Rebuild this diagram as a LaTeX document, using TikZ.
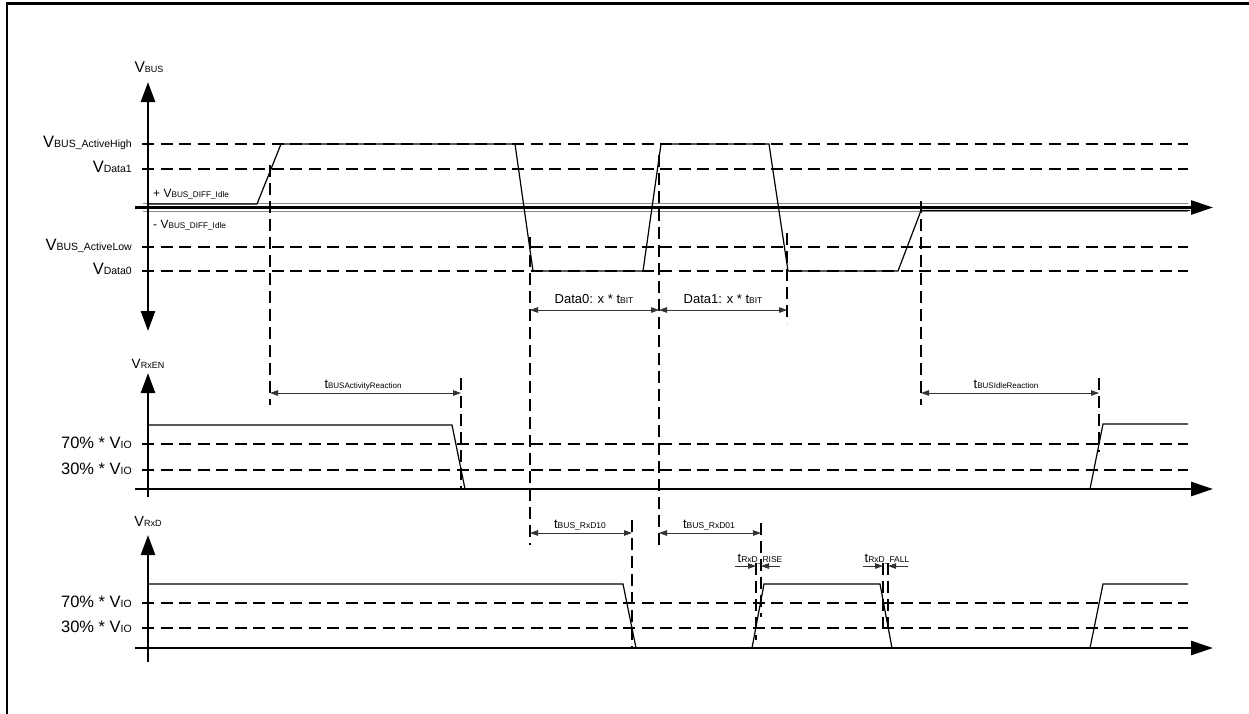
\documentclass[tikz,border=0pt]{standalone}
\usepackage{fontspec}
\setmainfont{Liberation Sans}
\usetikzlibrary{arrows.meta}
\newcommand{\sbs}[2]{\raisebox{-0.8pt}{\fontsize{#1}{#1}\selectfont #2}}

\begin{document}
\begin{tikzpicture}[
			x=1pt, y=-1pt,
			haxis/.style={line width=2.7pt, -{Triangle[length=22pt, width=14pt]}},
			vaxis/.style={line width=2.7pt, -{Triangle[length=20pt, width=14pt]}},
			lvl/.style={line width=2.6pt, dash pattern=on 12pt off 6.5pt},
			vmk/.style={line width=2.6pt, dash pattern=on 12pt off 6pt},
			idle/.style={line width=1pt, draw=black!45},
			sig/.style={line width=1.2pt},
			dim/.style={line width=0.9pt, draw=black!80, {Triangle[length=8pt, width=5.5pt]}-{Triangle[length=8pt, width=5.5pt]}},
			tick/.style={line width=0.9pt, draw=black!80, -{Triangle[length=8pt, width=5.5pt]}},
			lbl/.style={inner sep=0pt, font=\fontsize{16.5}{18}\selectfont},
			slbl/.style={inner sep=0pt, font=\fontsize{12}{13}\selectfont},
			tlbl/.style={inner sep=0pt, font=\fontsize{13}{14}\selectfont},
		]
			\useasboundingbox (0,0) rectangle (1249,713);
			\draw[line width=2.8pt] (7,714) -- (7,3.4) -- (1250,3.4);

			% bus
			\node[inner sep=0pt, anchor=base, font=\fontsize{15.5}{17}\selectfont] (vbus) at (149,72) {V\sbs{9}{BUS}};
			\foreach \y in {144,169,247,271}
				\draw[lvl] (142,\y) -- (1188,\y);
			\draw[idle] (143,203.5) -- (1188,203.5);
			\draw[idle] (143,211.5) -- (1188,211.5);
			\draw[line width=2.7pt, {Triangle[length=20pt, width=14pt]}-{Triangle[length=20pt, width=14pt]}] (148,82) -- (148,331);
			\draw[haxis] (135,207.5) -- (1213,207.5);
			\node[lbl, anchor=base east] (vah) at (132,147) {V\sbs{10.5}{BUS\_ActiveHigh}};
			\node[lbl, anchor=base east] (vd1) at (132,172) {V\sbs{10.5}{Data1}};
			\node[lbl, anchor=base east] (val) at (132,250) {V\sbs{10.5}{BUS\_ActiveLow}};
			\node[lbl, anchor=base east] (vd0) at (132,274) {V\sbs{10.5}{Data0}};
			\node[slbl, anchor=base west] (pidle) at (153,197) {+ V\sbs{8.2}{BUS\_DIFF\_Idle}};
			\node[slbl, anchor=base west] (midle) at (153,228) {- V\sbs{8.2}{BUS\_DIFF\_Idle}};
			\draw[sig] (148,204) -- (257,204) -- (281,144) -- (515,144) -- (533,271) -- (643,271) -- (661,144)
				-- (769,144) -- (788,271) -- (898,271) -- (921,210.5) -- (1190,210.5);

			\draw[vmk] (270,165) -- (270,405);
			\draw[vmk] (530,237) -- (530,545);
			\draw[vmk] (659,155) -- (659,545);
			\draw[vmk] (787,233) -- (787,323);
			\draw[vmk] (921,201) -- (921,405);

			\coordinate (d0a) at (530,310);
			\coordinate (d0b) at (659,310);
			\coordinate (d1b) at (787,310);
			\draw[dim] (d0a) -- (d0b);
			\draw[dim] (d0b) -- (d1b);
			\node[tlbl, anchor=base] (data0) at (594,303) {Data0: x * t\sbs{8.5}{BIT}};
			\node[tlbl, anchor=base] (data1) at (723,303) {Data1: x * t\sbs{8.5}{BIT}};

			% rxen
			\node[inner sep=0pt, anchor=base, font=\fontsize{13.5}{15}\selectfont] (vrxen) at (148,368) {V\sbs{9}{RxEN}};
			\draw[lvl] (142,444) -- (1188,444);
			\draw[lvl] (142,470) -- (1188,470);
			\draw[vaxis] (148,497) -- (148,373);
			\draw[haxis] (135,489) -- (1213,489);
			\node[lbl, anchor=base east] (en70) at (132,448) {70\% * V\sbs{10.5}{IO}};
			\node[lbl, anchor=base east] (en30) at (132,474) {30\% * V\sbs{10.5}{IO}};
			\draw[sig] (148,425) -- (452,425) -- (465,489);
			\draw[sig] (1090,489) -- (1103,424) -- (1188,424);
			\draw[vmk] (461,378) -- (461,490);
			\draw[vmk] (1099,378) -- (1099,452);

			\coordinate (actA) at (270,393);
			\coordinate (actB) at (461,393);
			\coordinate (idlA) at (921,393);
			\coordinate (idlB) at (1099,393);
			\draw[dim] (actA) -- (actB);
			\draw[dim] (idlA) -- (idlB);
			\node[tlbl, anchor=base] (tact) at (363,388) {t\sbs{8}{BUSActivityReaction}};
			\node[tlbl, anchor=base] (tidle) at (1006,388) {t\sbs{8}{BUSIdleReaction}};

			% rxd
			\node[inner sep=0pt, anchor=base, font=\fontsize{14.5}{16}\selectfont] (vrxd) at (148,526) {V\sbs{9}{RxD}};
			\draw[lvl] (142,603) -- (1188,603);
			\draw[lvl] (142,628) -- (1188,628);
			\draw[vaxis] (148,662) -- (148,535);
			\draw[haxis] (135,648) -- (1213,648);
			\node[lbl, anchor=base east] (d70) at (132,607) {70\% * V\sbs{10.5}{IO}};
			\node[lbl, anchor=base east] (d30) at (132,632) {30\% * V\sbs{10.5}{IO}};
			\draw[sig] (148,584) -- (623,584) -- (636,648);
			\draw[sig] (752,648) -- (764,584) -- (880,584) -- (892,648);
			\draw[sig] (1090,648) -- (1103,584) -- (1188,584);
			\draw[vmk] (632,520) -- (632,648);
			\draw[vmk] (761,523) -- (761,617);
			\draw[vmk] (756,563) -- (756,640);
			\draw[vmk] (883,563) -- (883,630);
			\draw[vmk] (888,563) -- (888,630);

			\coordinate (r10a) at (530,533);
			\coordinate (r10b) at (632,533);
			\coordinate (r01a) at (659,533);
			\coordinate (r01b) at (761,533);
			\draw[dim] (r10a) -- (r10b);
			\draw[dim] (r01a) -- (r01b);
			\node[tlbl, anchor=base] (trxd10) at (580,528) {t\sbs{8.5}{BUS\_RxD10}};
			\node[tlbl, anchor=base] (trxd01) at (709,528) {t\sbs{8.5}{BUS\_RxD01}};

			\coordinate (riseL) at (735,566);
			\coordinate (riseA) at (756,566);
			\coordinate (riseB) at (761,566);
			\coordinate (riseR) at (780,566);
			\coordinate (fallL) at (863,566);
			\coordinate (fallA) at (883,566);
			\coordinate (fallB) at (888,566);
			\coordinate (fallR) at (908,566);
			\draw[tick] (riseL) -- (riseA);
			\draw[tick] (riseR) -- (riseB);
			\draw[tick] (fallL) -- (fallA);
			\draw[tick] (fallR) -- (fallB);
			\node[tlbl, anchor=base] (trise) at (760,562) {t\sbs{8.5}{RxD\_RISE}};
			\node[tlbl, anchor=base] (tfall) at (887,562) {t\sbs{8.5}{RxD\_FALL}};
		\end{tikzpicture}
\end{document}
